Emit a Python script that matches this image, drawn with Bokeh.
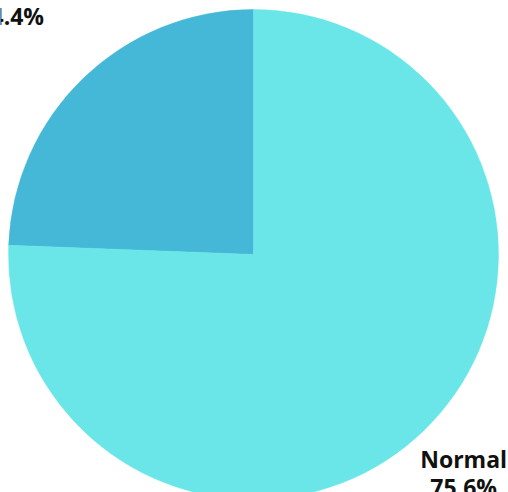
import math
from bokeh.plotting import figure
from bokeh.models import Range1d, ColumnDataSource
from bokeh.core.properties import value
from bokeh.embed import file_html
from bokeh.resources import INLINE

categories = ["Abnormal", "Normal"]
percents = [24.4, 75.6]
pct_labels = ["24.4%", "75.6%"]
colors = ["#44b8d6", "#6ae6e9"]

W, H = 508, 492
cx, cy, r = 253, H - 254, 245
label_r = [350, 303]
line_gap = 14

start = []
end = []
acc = math.pi / 2
for v in percents:
    start.append(acc)
    acc += v / 100 * 2 * math.pi
    end.append(acc)
mid = [(s + e) / 2 for s, e in zip(start, end)]

src = ColumnDataSource(dict(start=start, end=end, color=colors))

p = figure(width=W, height=H, output_backend="svg", toolbar_location=None,
           x_range=Range1d(0, W), y_range=Range1d(0, H),
           x_axis_location=None, y_axis_location=None,
           min_border=0, outline_line_color=None)
p.grid.visible = False
p.background_fill_color = "white"
p.border_fill_color = "white"

p.wedge(x=cx, y=cy, radius=r, start_angle="start", end_angle="end",
        fill_color="color", line_color="color", line_width=0.5, source=src)

lx = [cx + lr * math.cos(m) for lr, m in zip(label_r, mid)]
ly = [cy + lr * math.sin(m) for lr, m in zip(label_r, mid)]

lab = ColumnDataSource(dict(x=lx, y1=[y + line_gap for y in ly], y2=[y - line_gap for y in ly],
                            name=categories, pct=pct_labels))
common = dict(text_font=value("Open Sans"), text_font_style="bold", text_font_size="23px",
              text_color="#111111", text_align="center", text_baseline="middle", source=lab)
p.text(x="x", y="y1", text="name", **common)
p.text(x="x", y="y2", text="pct", **common)

open("out.html", "w").write(file_html(p, INLINE))
